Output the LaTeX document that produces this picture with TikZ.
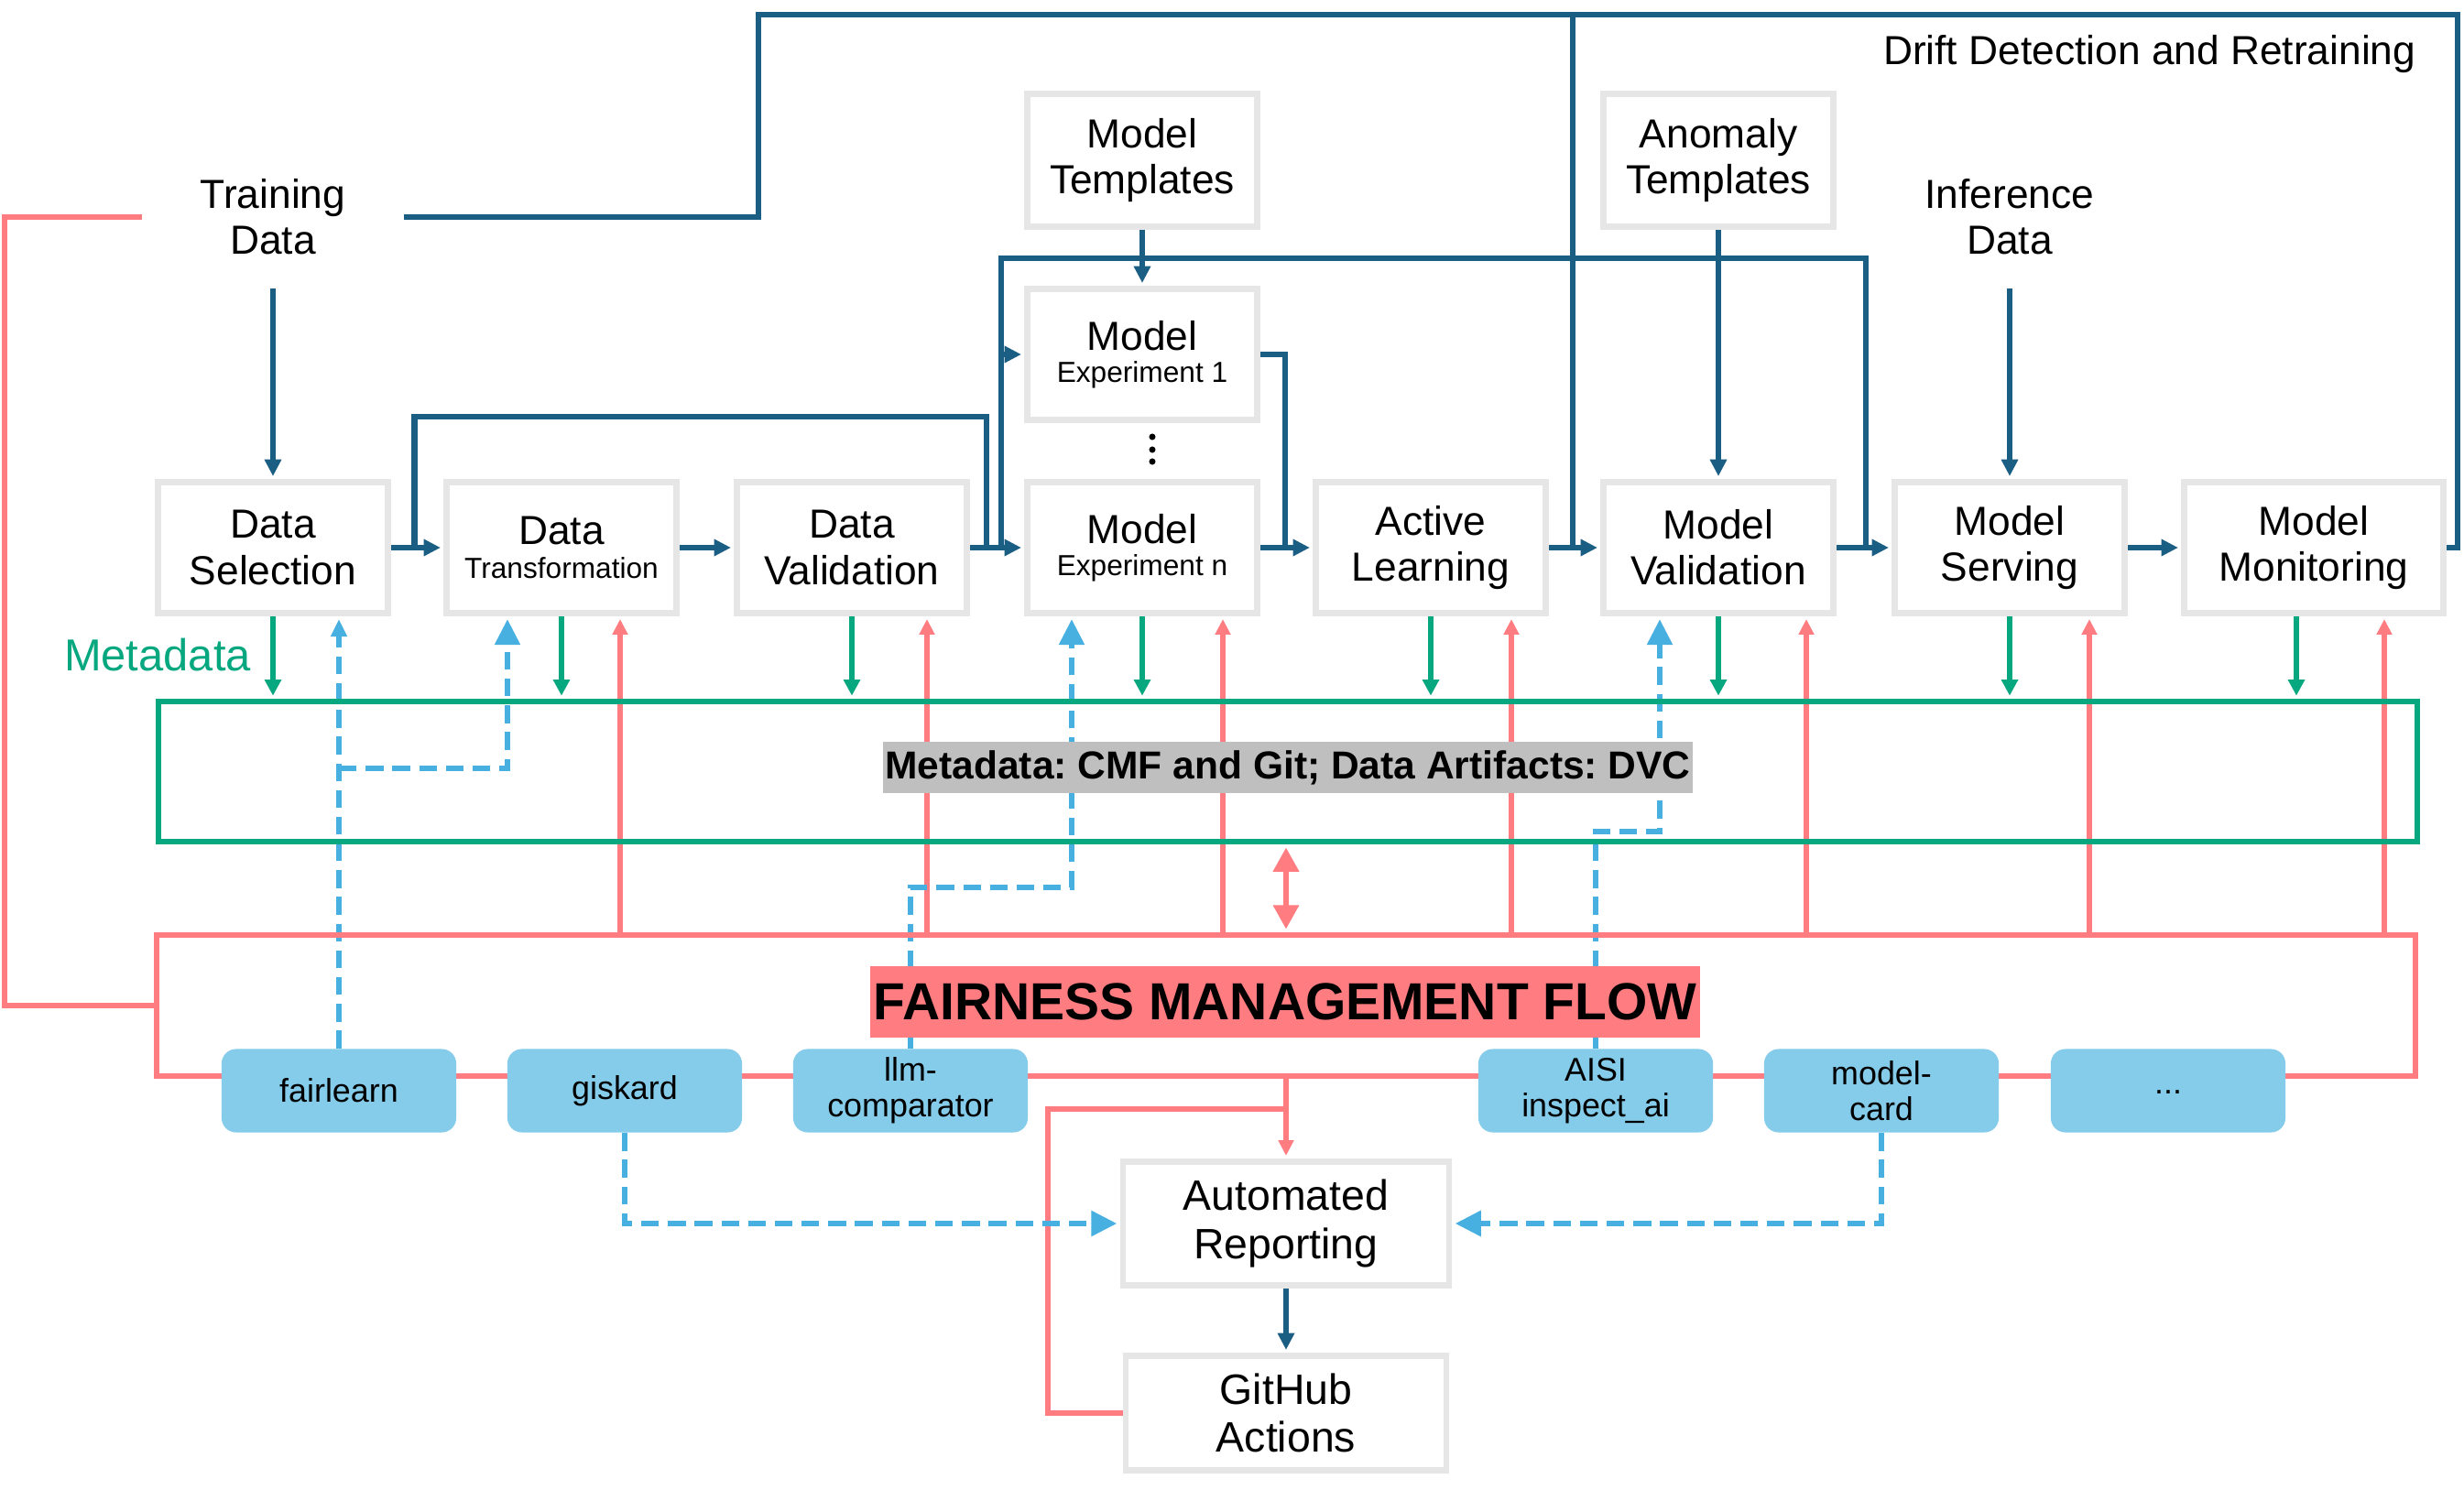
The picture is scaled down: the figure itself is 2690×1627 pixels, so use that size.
\documentclass[tikz,border=0pt]{standalone}
\usepackage{fontspec}
\setmainfont{Liberation Sans}
\usetikzlibrary{arrows.meta,calc}
\definecolor{dblue}{HTML}{1A5E83}
\definecolor{mgreen}{HTML}{07A880}
\definecolor{mpink}{HTML}{FF7C80}
\definecolor{dashblue}{HTML}{47B0E0}
\definecolor{toolblue}{HTML}{85CBEA}
\definecolor{boxgray}{HTML}{E6E6E6}
\definecolor{labgray}{HTML}{BFBFBF}
\newcommand\fsmain{\fontsize{12.6}{14.3}\selectfont}
\newcommand\fssmall{\fontsize{9}{10.5}\selectfont}
\newcommand\fstool{\fontsize{10.2}{11.2}\selectfont}
\newcommand\fsrep{\fontsize{13.2}{15}\selectfont}
\frenchspacing
\pgfdeclarelayer{bglayer}
\pgfdeclarelayer{wires}
\pgfsetlayers{bglayer,wires,main}
\begin{document}
\begin{tikzpicture}[x=0.01cm,y=-0.01cm,
  stagebox/.style={draw=boxgray, line width=1.9pt, fill=white, minimum width=2.51cm, minimum height=1.43cm, align=center, inner sep=0pt, font=\fsmain},
  txt/.style={align=center, inner sep=0pt, font=\fsmain},
  tool/.style={fill=toolblue, rounded corners=4.5pt, minimum width=2.56cm, minimum height=0.91cm, align=center, inner sep=0pt, font=\fstool},
  dflow/.style={draw=dblue, line width=1.9pt},
  flowarrow/.style={dflow, -{Triangle[length=5.2pt,width=5pt]}, shorten >=0.9pt},
  greenarrow/.style={draw=mgreen, line width=1.5pt, -{Triangle[length=5pt,width=5pt]}, shorten >=0.9pt},
  pinkline/.style={draw=mpink, line width=1.8pt},
  pinkarrow/.style={draw=mpink, line width=1.5pt, -{Triangle[length=4.8pt,width=4.6pt]}, shorten >=0.9pt},
  pinkdbl/.style={draw=mpink, line width=1.8pt, {Triangle[length=7.5pt,width=7.7pt]}-{Triangle[length=7.5pt,width=7.7pt]}, shorten >=0.9pt, shorten <=0.9pt},
  dasharrow/.style={draw=dashblue, line width=1.8pt, dash pattern=on 5.5pt off 2.8pt, -{Triangle[length=8pt,width=7.6pt]}, shorten >=0.9pt},
  smalldash/.style={dasharrow, -{Triangle[length=5.4pt,width=4.8pt]}},
]
\begin{pgfonlayer}{bglayer}
\fill[white] (0,0) rectangle (2690,1627);
\end{pgfonlayer}
\useasboundingbox (0,0) rectangle (2690,1627);

% stage boxes
\node[stagebox] (DS) at (298,598) {Data\\Selection};
\node[stagebox] (DT) at (613,598) {Data\\[-4pt]{\fssmall Transformation}};
\node[stagebox] (DV) at (930,598) {Data\\Validation};
\node[stagebox] (MEn) at (1247,598) {Model\\[-4.5pt]{\fssmall Experiment n}};
\node[stagebox] (ME1) at (1247,387) {Model\\[-4.5pt]{\fssmall Experiment 1}};
\node[stagebox] (AL) at (1562,598) {Active\\Learning};
\node[stagebox] (MV) at (1876,598) {Model\\Validation};
\node[stagebox] (MS) at (2194,598) {Model\\Serving};
\node[stagebox, minimum width=2.83cm] (MM) at (2526,598) {Model\\Monitoring};
\node[stagebox, minimum height=1.45cm] (MT) at (1247,175) {Model\\Templates};
\node[stagebox, minimum height=1.45cm] (AT) at (1876,175) {Anomaly\\Templates};
\node[stagebox, font=\fsrep, minimum width=3.56cm, minimum height=1.35cm] (AR) at (1404,1336) {Automated\\Reporting};
\node[stagebox, font=\fsrep, minimum width=3.50cm, minimum height=1.25cm] (GA) at (1404,1543) {GitHub\\Actions};

% free texts
\node[txt, minimum width=2.85cm, minimum height=1.54cm] (TD) at (298,237) {Training\\Data};
\node[txt, minimum width=2.2cm, minimum height=1.54cm] (ID) at (2194,237) {Inference\\Data};
\node[txt, anchor=east] (drift) at (2638,59) {Drift Detection and Retraining};
\node[txt, text=mgreen, font=\fontsize{13.9}{16}\selectfont] (mdl) at (172,715) {Metadata};

% metadata and fairness frames
\node[draw=mgreen, line width=1.8pt, minimum width=24.64cm, minimum height=1.53cm, inner sep=0pt] (MDbox) at (1406,842.5) {};
\node[draw=mpink, line width=1.8pt, minimum width=24.64cm, minimum height=1.54cm, inner sep=0pt] (FMFbox) at (1404,1098) {};

% dots between experiments
\foreach \yy in {477,491,504} \fill (1258,\yy) circle[radius=1pt];

\begin{pgfonlayer}{wires}
% main flow
\draw[flowarrow] (TD.south) -- (DS.north);
\draw[flowarrow] (ID.south) -- (MS.north);
\draw[flowarrow] (DS.east) -- (DT.west);
\draw[flowarrow] (DT.east) -- (DV.west);
\draw[flowarrow] (DV.east) -- (MEn.west);
\draw[flowarrow] (MEn.east) -- (AL.west);
\draw[flowarrow] (AL.east) -- (MV.west);
\draw[flowarrow] (MV.east) -- (MS.west);
\draw[flowarrow] (MS.east) -- (MM.west);
\draw[flowarrow] (MT.south) -- (ME1.north);
\draw[flowarrow] (AT.south) -- (MV.north);
\draw[flowarrow] (AR.south) -- (GA.north);
% bypass of transformation/validation
\coordinate (bypL) at ($(DS.east)!0.45!(DT.west)$);
\coordinate (bypR) at (1077,455);
\draw[dflow] (bypL) |- (bypR) -- (bypR |- DV.east);
% experiment loop
\coordinate (loopL) at (1093,282);
\coordinate (loopR) at (2037,282);
\draw[dflow] (loopL |- MEn.west) -- (loopL) -- (loopR) -- (loopR |- MS.west);
\draw[flowarrow] (loopL |- ME1.west) -- (ME1.west);
\coordinate (exR) at (1403,387);
\draw[dflow] (ME1.east) -- (exR) -- (exR |- AL.west);
% drift detection and retraining
\coordinate (drR) at (2683,16);
\coordinate (drL) at (828,16);
\draw[dflow] (MM.east) -| (drR) -- (drL) |- (TD.east);
\coordinate (drM) at (1717,16);
\draw[dflow] (drM) -- (drM |- AL.east);

% metadata arrows
\foreach \n in {DS,DT,DV,MEn,AL,MV,MS}
  \draw[greenarrow] (\n.south) -- (\n.south |- MDbox.north);
\coordinate (gMM) at ($(MM.south)+(-19,0)$);
\draw[greenarrow] (gMM) -- (gMM |- MDbox.north);

% fairness arrows
\foreach \n/\d in {DT/64,DV/82,MEn/88,AL/88,MV/96,MS/87,MM/77}{
  \coordinate (p\n) at ($(\n.south)+(\d,0)$);
  \draw[pinkarrow] (p\n |- FMFbox.north) -- (p\n);
}
\draw[pinkdbl] (MDbox.south -| FMFbox.north) -- (FMFbox.north);
\coordinate (pinkL) at (5,237);
\draw[pinkline] (TD.west) -- (pinkL) |- (FMFbox.west);
\draw[pinkarrow] (FMFbox.south -| AR.north) -- (AR.north);
\coordinate (ghL) at (1144,1211);
\draw[pinkline] (GA.west) -| (ghL) -- (ghL -| AR.north);
\end{pgfonlayer}

% labels on top
\node[fill=labgray, font=\bfseries\fontsize{12.1}{14}\selectfont, minimum height=0.55cm, inner xsep=0.6pt, inner ysep=0pt] (mdtext) at (1406,838) {Metadata: CMF and Git; Data Artifacts: DVC};
\node[fill=mpink, font=\bfseries\fontsize{16.2}{19}\selectfont, minimum height=0.78cm, inner xsep=1pt, inner ysep=0pt] (fmftext) at (1403,1094) {FAIRNESS MANAGEMENT FLOW};

% tools
\node[tool] (fair) at (370,1191) {fairlearn};
\node[tool] (gisk) at (682,1191) {giskard};
\node[tool] (llm) at (994,1191) {llm-\\comparator};
\node[tool] (aisi) at (1742,1191) {AISI\\inspect\_ai};
\node[tool] (mcard) at (2054,1191) {model-\\card};
\node[tool] (more) at (2367,1191) {\raisebox{-2pt}{...}};

\begin{pgfonlayer}{wires}
\draw[smalldash] (fair.north) -- (fair.north |- DS.south);
\coordinate (jFy) at (0,839);
\coordinate (dDT) at ($(DT.south)+(-59,0)$);
\draw[dasharrow] (fair.north |- jFy) -| (dDT);
\coordinate (dMEn) at ($(MEn.south)+(-77,0)$);
\draw[dasharrow] (llm.north) -- ++(0,-176) -| (dMEn);
\coordinate (dMV) at ($(MV.south)+(-64,0)$);
\draw[dasharrow] (aisi.north) -- ++(0,-237) -| (dMV);
\draw[dasharrow] (gisk.south) |- (AR.west);
\draw[dasharrow] (mcard.south) |- (AR.east);
\end{pgfonlayer}
\end{tikzpicture}
\end{document}
